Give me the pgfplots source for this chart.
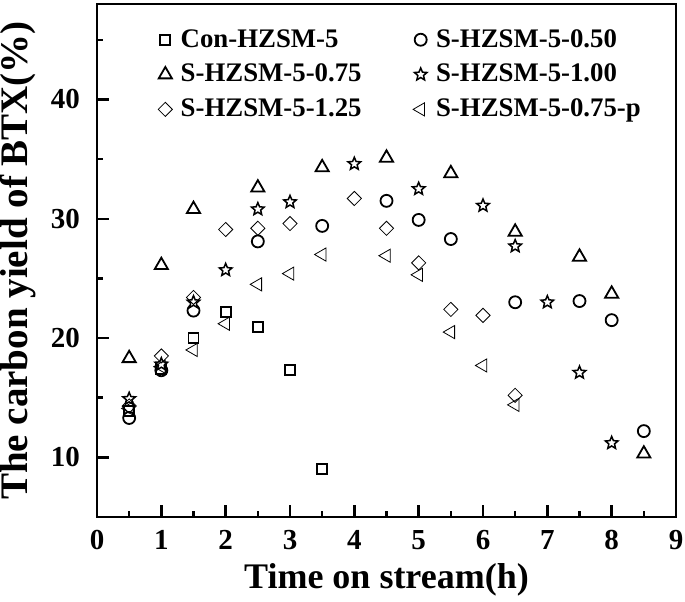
\documentclass[border=0pt]{standalone}
\usepackage{fontspec}
\setmainfont{Liberation Serif}
\usepackage{pgfplots}
\pgfplotsset{compat=1.18}
\pgfdeclareplotmark{fivestar}{%
  \pgfpathmoveto{\pgfpointpolar{90}{\pgfplotmarksize}}%
  \pgfpathlineto{\pgfpointpolar{126}{0.45\pgfplotmarksize}}%
  \pgfpathlineto{\pgfpointpolar{162}{\pgfplotmarksize}}%
  \pgfpathlineto{\pgfpointpolar{198}{0.45\pgfplotmarksize}}%
  \pgfpathlineto{\pgfpointpolar{234}{\pgfplotmarksize}}%
  \pgfpathlineto{\pgfpointpolar{270}{0.45\pgfplotmarksize}}%
  \pgfpathlineto{\pgfpointpolar{306}{\pgfplotmarksize}}%
  \pgfpathlineto{\pgfpointpolar{342}{0.45\pgfplotmarksize}}%
  \pgfpathlineto{\pgfpointpolar{18}{\pgfplotmarksize}}%
  \pgfpathlineto{\pgfpointpolar{54}{0.45\pgfplotmarksize}}%
  \pgfpathclose
  \pgfusepathqfillstroke
}
\begin{document}
\begin{tikzpicture}
\begin{axis}[
  scale only axis,
  width=289.5pt, height=256.5pt,
  xmin=0, xmax=9, ymin=5, ymax=48,
  xtick={0,1,...,9},
  minor xtick={0.5,1.5,...,8.5},
  ytick={10,20,30,40},
  minor ytick={15,25,35,45},
  xtick pos=left, ytick pos=left,
  tick align=inside,
  major tick length=6pt, minor tick length=3pt,
  every tick/.style={line width=1.2pt, black},
  axis line style={line width=1.3pt},
  /pgf/number format/assume math mode=true,
  ticklabel style={font=\bfseries\fontsize{14.5}{16}\selectfont},
  xticklabel style={yshift=-3pt},
  yticklabel style={xshift=-5pt},
  xlabel={Time on stream(h)},
  ylabel={The carbon yield of BTX(\%)},
  xlabel style={font=\bfseries\fontsize{18}{20}\selectfont, at={(axis description cs:0.5,0)}, anchor=center, yshift=-31.5pt},
  ylabel style={font=\bfseries\fontsize{19.5}{21}\selectfont, at={(axis description cs:0,0.5)}, anchor=center, yshift=39.5pt},
  legend columns=2,
  legend cell align=left,
  legend image code/.code={\pgfpathmoveto{\pgfpoint{0cm}{0cm}}\pgfpathlineto{\pgfpoint{0.5cm}{0cm}}\pgfusepath{use as bounding box}\draw[#1] plot coordinates {(0.3cm,0cm)};},
  legend style={draw=none, fill=none, at={(axis description cs:0.0775,0.967)}, anchor=north west,
    font=\bfseries\fontsize{13.4}{15.5}\selectfont,
    /tikz/every even column/.append style={column sep=19pt},
    row sep=3pt},
  every axis plot/.append style={only marks, black, mark options={line width=0.9pt, fill=white}},
]
\addplot[mark=square, mark size=2.5pt] coordinates {
(0.5,13.9) (1,17.4) (1.5,20.0) (2,22.2) (2.5,20.9) (3,17.3) (3.5,9.0)};
\addlegendentry{Con-HZSM-5}
\addplot[mark=o, mark size=3pt] coordinates {
(0.5,13.3) (1,17.3) (1.5,22.3) (2.5,28.1) (3.5,29.4) (4.5,31.5) (5,29.9) (5.5,28.3) (6.5,23.0) (7.5,23.1) (8,21.5) (8.5,12.2)};
\addlegendentry{S-HZSM-5-0.50}
\addplot[mark=triangle, mark size=3.8pt] coordinates {
(0.5,18.3) (1,26.1) (1.5,30.8) (2.5,32.6) (3.5,34.3) (4.5,35.1) (5.5,33.8) (6.5,28.9) (7.5,26.8) (8,23.7) (8.5,10.3)};
\addlegendentry{S-HZSM-5-0.75}
\addplot[mark=fivestar, mark size=3.3pt, mark options={line width=0.75pt, fill=white}] coordinates {
(0.5,14.9) (1,17.8) (1.5,23.0) (2,25.7) (2.5,30.8) (3,31.4) (4,34.6) (5,32.5) (6,31.1) (6.5,27.7) (7,23.0) (7.5,17.1) (8,11.2)};
\addlegendentry{S-HZSM-5-1.00}
\addplot[mark=square, mark size=2.5pt, mark options={rotate=45}] coordinates {
(0.5,14.3) (1,18.5) (1.5,23.4) (2,29.1) (2.5,29.2) (3,29.6) (4,31.7) (4.5,29.2) (5,26.3) (5.5,22.4) (6,21.9) (6.5,15.2)};
\addlegendentry{S-HZSM-5-1.25}
\addplot[mark=triangle, mark size=3.8pt, mark options={rotate=90}] coordinates {
(0.5,14.1) (1,17.6) (1.5,19.0) (2,21.2) (2.5,24.5) (3,25.4) (3.5,27.0) (4.5,26.9) (5,25.3) (5.5,20.5) (6,17.7) (6.5,14.4)};
\addlegendentry{S-HZSM-5-0.75-p}
\end{axis}
\pgfresetboundingbox
\useasboundingbox ([xshift=-48.5pt,yshift=-42pt]current axis.south west) rectangle ([xshift=4.5pt,yshift=2pt]current axis.north east);
\end{tikzpicture}
\end{document}
